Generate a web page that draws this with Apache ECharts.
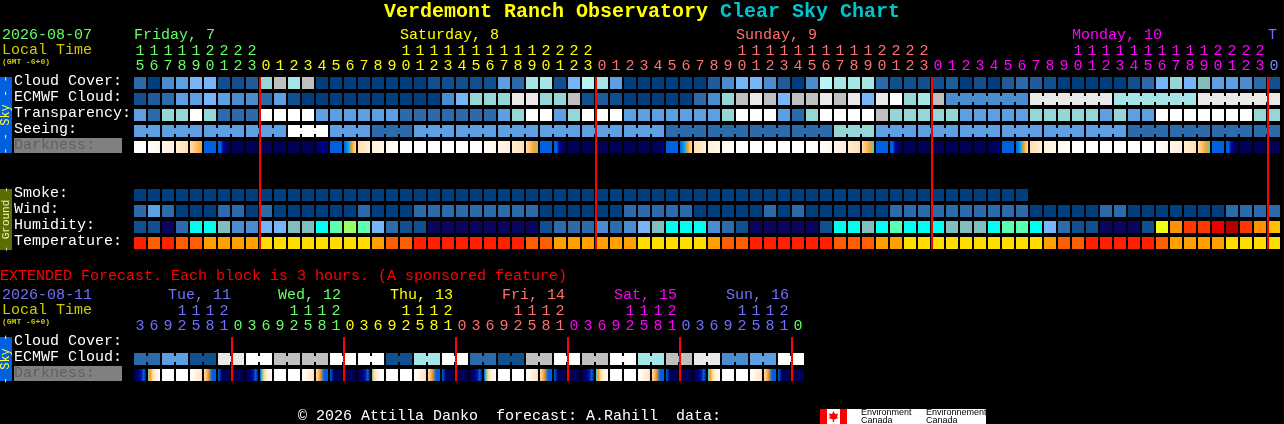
<!DOCTYPE html>
<html><head><meta charset="utf-8">
<script src="https://cdn.jsdelivr.net/npm/echarts@6/dist/echarts.min.js"></script>
<style>html,body{margin:0;padding:0;background:#000;overflow:hidden}#c{width:1284px;height:424px}</style>
</head><body><div id="c"></div>
<script>
// ---- level lookup: blues 0-6, teals 7-9, greys 10-12, then humidity and temperature levels
const levelColors = ['#003F7F','#10508F','#1E5C9C','#2C6BAB','#4B8CD0','#5E9FE3','#75B5F8','#96D6D6','#A5E5E5','#B5F5F5','#BFBFBF','#E9E9E9','#FFFFFF','#80BEBE','#0A0560','#00FFEE','#5AFFB0','#99FF66','#EEFF11','#FF9000','#FF3800','#EE0000','#B00000','#FFC000','#FF2000','#FF5F00','#FF9F00','#FFDD00'];
const darkColors = ['#FFFFFF','#FFF7EC','#FFEFD8','#FFDFB0','#FFC070','#FFA020','#80C8A0','#00A0F0','#0060E0','#0010A0','#000080','#000058','#20E0E0'];

// ---- main forecast
const hours = [15,16,17,18,19,20,21,22,23,0,1,2,3,4,5,6,7,8,9,10,11,12,13,14,15,16,17,18,19,20,21,22,23,0,1,2,3,4,5,6,7,8,9,10,11,12,13,14,15,16,17,18,19,20,21,22,23,0,1,2,3,4,5,6,7,8,9,10,11,12,13,14,15,16,17,18,19,20,21,22,23,0];
const rowNames = ['Cloud Cover:','ECMWF Cloud:','Transparency:','Seeing:','Darkness:',' ','  ','Smoke:','Wind:','Humidity:','Temperature:'];
const cloudCover = [3,0,4,5,6,6,1,1,2,7,10,8,10,0,0,0,0,0,0,0,0,1,1,1,1,1,5,3,8,8,1,6,9,8,5,0,0,0,0,0,0,2,4,6,6,4,2,0,4,9,8,8,8,3,1,1,1,1,2,0,1,0,2,3,2,1,0,0,0,0,0,1,3,6,7,6,13,5,5,4,3,1];
const ecmwfCloud = [1,2,3,5,5,6,5,4,4,3,5,1,0,0,0,0,0,0,0,0,0,0,4,6,7,7,7,11,11,7,7,10,1,2,1,0,0,0,0,0,3,4,7,10,11,10,6,10,10,11,10,11,6,11,12,7,8,10,4,4,4,4,4,4,11,11,11,11,11,11,8,8,8,8,8,8,11,11,11,11,11,11];
const transparency = [5,3,7,7,12,7,3,3,3,12,12,12,12,5,5,5,5,5,5,3,3,3,3,3,3,3,5,7,12,12,5,7,12,12,12,5,5,5,5,5,5,5,7,12,12,12,5,3,7,12,12,12,12,10,7,7,7,7,7,5,5,5,5,5,7,7,7,7,7,5,7,5,5,12,12,12,12,12,12,12,7,7];
const seeing = [5,5,5,5,5,5,5,5,5,5,5,12,12,12,5,5,5,3,3,3,5,5,5,5,5,5,5,5,5,5,5,5,5,5,5,5,5,5,3,3,3,3,3,3,3,3,3,3,3,3,7,7,7,5,5,5,5,5,5,5,5,5,5,5,5,5,5,5,5,5,5,3,3,3,3,3,3,3,3,3,3,3];
const darkness = [[0,0],[0,1],[1,2],[2,3],[3,4,5],[8,8],[8,8,9,10,11,11],[11,11],[11,11],[11,11],[11,11],[11,11],[11,11],[11,10,10],[8,8],[8,7,5,3],[3,2],[2,1],[1,0],[0,0],[0,0],[0,0],[0,0],[0,0],[0,0],[0,1],[1,2],[2,3],[3,4,5,6],[8,8],[8,8,9,10,11,11],[11,11],[11,11],[11,11],[11,11],[11,11],[11,11],[11,11,10],[8,8],[8,7,5,3],[3,2],[2,1],[1,0],[0,0],[0,0],[0,0],[0,0],[0,0],[0,0],[0,1],[1,2],[2,3],[3,4,5,12],[8,8],[8,8,9,10,11,11],[11,11],[11,11],[11,11],[11,11],[11,11],[11,11],[11,11,10],[8,8],[8,7,5,3],[3,2],[2,1],[1,0],[0,0],[0,0],[0,0],[0,0],[0,0],[0,0],[0,1],[1,2],[2,3],[3,4,5,12],[8,8],[8,8,9,10,11,11],[11,11],[11,11],[11,11]];
const smoke = [0,0,0,0,0,0,0,0,0,0,0,0,0,0,0,0,0,0,0,0,0,0,0,0,0,0,0,0,0,0,0,0,0,0,0,0,0,0,0,0,0,0,0,0,0,0,0,0,0,0,0,0,0,0,0,0,0,0,0,0,0,0,0,0];
const wind = [3,5,3,0,0,0,3,3,0,3,0,0,0,0,0,0,3,0,0,0,3,3,3,3,3,3,3,3,3,0,0,0,0,0,0,3,3,3,3,3,0,0,0,0,0,3,0,3,0,0,0,0,0,0,3,3,3,3,3,3,3,3,3,3,0,0,0,0,0,3,3,0,0,0,0,0,0,0,3,3,3,3];
const humidity = [1,1,14,3,15,15,13,4,4,6,6,13,13,15,16,17,16,6,3,1,1,14,14,14,14,14,14,14,14,1,3,3,3,4,3,4,6,13,15,15,15,4,3,1,14,14,14,14,14,1,15,15,13,15,16,15,15,15,13,13,13,15,16,16,15,6,3,1,1,14,14,14,1,18,19,20,20,21,22,20,19,23];
const temperature = [24,25,24,25,25,26,26,26,26,27,27,27,27,27,27,27,27,26,25,25,24,24,24,24,24,24,24,24,25,25,26,26,26,26,26,26,27,27,27,27,27,26,25,25,24,24,24,24,24,24,25,25,25,26,26,27,27,27,27,27,27,27,27,27,27,26,25,25,24,24,24,24,24,25,26,26,26,26,27,27,27,27];
const seeingBlockStarts = [0,2,5,8,11,14,17,20,23,26,29,32,35,38,41,44,47,50,53,56,59,62,65,68,71,74,77,80];
const ecmwfBlockStarts = [58,64,70,76];
const midnights = [9,33,57,81];
const dayLabels = [['Friday, 7',134,'#66FF66'],['Saturday, 8',400,'#FFFF00'],['Sunday, 9',736,'#FF7070'],['Monday, 10',1072,'#FF00FF'],['T',1268,'#6F6FFF']];
const hourColorBreaks = [[0,'#66FF66'],[9,'#FFFF00'],[33,'#FF7070'],[57,'#FF00FF'],[81,'#6F8FFF']];

// ---- extended forecast
const extHours = [3,6,9,12,15,18,21,0,3,6,9,12,15,18,21,0,3,6,9,12,15,18,21,0,3,6,9,12,15,18,21,0,3,6,9,12,15,18,21,0,3,6,9,12,15,18,21,0];
const extRowNames = ['Cloud Cover:','ECMWF Cloud:','Darkness:'];
const extEcmwf = [3,3,5,5,1,1,11,11,12,12,10,10,10,10,12,12,12,12,1,1,8,8,12,12,3,3,1,1,10,10,12,12,10,10,12,12,8,8,10,10,11,11,4,4,5,5,12,12];
const extDarkness = [[11,11,10,9,8,9],[6,5,3,2,1,0],[0,0],[0,0],[0,1,2,3],[3,5,8,8],[8,11,11,11],[11,11],[11,11,10,9,8,9],[8,6,3,2,1,0],[0,0],[0,0],[0,1,2,3],[3,5,8,8],[8,11,11,11],[11,11],[11,11,10,9,8,9],[6,3,2,1,0,0],[0,0],[0,0],[0,1,2,3],[3,5,8,8],[8,11,11,11],[11,11],[11,11,10,9,8,9],[8,6,3,2,1,0],[0,0],[0,0],[0,1,2,3],[3,5,8,8],[8,11,11,11],[11,11],[11,11,10,9,8,9],[12,5,3,2,1,0],[0,0],[0,0],[0,1,2,3],[3,5,8,8],[8,11,11,11],[11,11],[11,11,10,9,8,9],[12,5,3,2,1,0],[0,0],[0,0],[0,1,2,3],[3,5,8,8],[8,11,11,11],[11,11]];
const extMidnights = [7,15,23,31,39,47];
const extDayLabels = [['Tue, 11',168,'#7070FF'],['Wed, 12',278,'#66FF66'],['Thu, 13',390,'#FFFF00'],['Fri, 14',502,'#FF7070'],['Sat, 15',614,'#FF00FF'],['Sun, 16',726,'#7070FF']];
const extColorBreaks = [[0,'#7070FF'],[7,'#66FF66'],[15,'#FFFF00'],[23,'#FF7070'],[31,'#FF00FF'],[39,'#7070FF'],[47,'#66FF66']];

const MONO = '"Liberation Mono", monospace';
const chart = echarts.init(document.getElementById('c'), null, {renderer:'canvas'});

function colorAt(breaks, i){ let c = breaks[0][1]; for (const b of breaks) if (i >= b[0]) c = b[1]; return c; }
function rows(values, row, starts){
  return values.map((v,col)=>{
    let bridge = 0;
    if (starts && col >= starts[0] && col+1 < values.length && starts.indexOf(col+1) < 0) bridge = 1;
    return [col,row,v,bridge];
  });
}
function cellItem(params, api){
  const c = api.coord([api.value(0), api.value(1)]);
  const s = api.size([1,1]);
  const w = s[0]-2, h = s[1]-4;
  const fill = levelColors[api.value(2)];
  const kids = [{type:'rect',shape:{x:c[0]-w/2,y:c[1]-h/2,width:w,height:h},style:{fill}}];
  if (api.value(3)) kids.push({type:'rect',shape:{x:c[0]+w/2,y:c[1]-3,width:2,height:6},style:{fill}});
  return {type:'group',children:kids};
}
function darkItem(stopsList){
  return function(params, api){
    const c = api.coord([api.value(0), api.value(1)]);
    const s = api.size([1,1]);
    const w = s[0]-2, h = s[1]-4;
    const st = stopsList[params.dataIndex];
    const grad = new echarts.graphic.LinearGradient(0,0,1,0, st.map((v,i)=>({offset:i/(st.length-1),color:darkColors[v]})));
    return {type:'rect',shape:{x:c[0]-w/2,y:c[1]-h/2,width:w,height:h},style:{fill:grad}};
  };
}
function redItem(lastRow){
  return function(params, api){
    const s = api.size([1,1]);
    const a = api.coord([api.value(0),0]), b = api.coord([api.value(0),lastRow]);
    const x = a[0]-s[0]/2, top = a[1]-s[1]/2+2, bot = b[1]+s[1]/2-2;
    return {type:'rect',shape:{x:x,y:top,width:2,height:bot-top},style:{fill:'#FF0000'}};
  };
}
function xAxis(gridIndex, list, breaks){
  return {type:'category',gridIndex,data:list.map(String),position:'top',boundaryGap:true,
    axisLine:{show:false},axisTick:{show:false},splitLine:{show:false},
    axisLabel:{show:true,interval:0,margin:1,fontFamily:MONO,fontSize:15,lineHeight:15,verticalAlign:'bottom',hideOverlap:false,
      color:(v,i)=>colorAt(breaks,i),
      formatter:(v)=>{const n=+v; return n>=10? Math.floor(n/10)+'\n'+(n%10) : String(n);}}};
}
function yAxis(gridIndex, list){
  return {type:'category',gridIndex,data:list,inverse:true,
    axisLine:{show:false},axisTick:{show:false},splitLine:{show:false},
    axisLabel:{show:true,interval:0,align:'left',margin:119,fontFamily:MONO,fontSize:15,color:'#FFFFFF',padding:[0,0,3,0],
      formatter:(v)=>v==='Darkness:'?'{d|Darkness:}':v,
      rich:{d:{backgroundColor:'#808080',color:'#606060',width:108,height:15,fontFamily:MONO,fontSize:15,align:'left'}}}};
}
function txt(x,y,s,fill,font,extra){
  return Object.assign({type:'text',x,y,silent:true,z:10,style:{text:s,fill,font:font||('15px '+MONO),textAlign:'left',textVerticalAlign:'middle'}},extra||{});
}
function bar(y0,y1,color,label,labelColor,size){
  return [
    {type:'rect',shape:{x:0,y:y0,width:12,height:y1-y0},style:{fill:color},z:5,silent:true},
    {type:'text',x:6,y:(y0+y1)/2,rotation:Math.PI/2,silent:true,z:10,
     style:{text:label,fill:labelColor,font:size+'px '+MONO,textAlign:'center',textVerticalAlign:'middle'}}
  ];
}
const TINY = 'bold 8px '+MONO;
const graphics = [
  txt(2,35,'2026-08-07','#66FF66'),
  txt(2,50,'Local Time','#CCCC00'),
  txt(2,62,'(GMT -6+0)','#CCCC00',TINY),
  txt(0,276,'EXTENDED Forecast. Each block is 3 hours. (A sponsored feature)','#FF0000'),
  txt(2,295,'2026-08-11','#7070FF'),
  txt(2,310,'Local Time','#CCCC00'),
  txt(2,322,'(GMT -6+0)','#CCCC00',TINY),
  txt(298,416,'\u00A9 2026 Attilla Danko  forecast: A.Rahill  data:','#FFFFFF'),
  ...dayLabels.map(d=>txt(d[1],35,d[0],d[2])),
  ...extDayLabels.map(d=>txt(d[1],295,d[0],d[2])),
  ...bar(77,153,'#0060E0','- - Sky - -','#FFFF40',12),
  ...bar(189,250,'#5A6E00','- Ground -','#F0F0C0',11),
  ...bar(337,381,'#0060E0','- Sky -','#FFFF40',12),
  {type:'rect',shape:{x:820,y:409,width:166,height:15},style:{fill:'#FFFFFF'},z:5,silent:true},
  {type:'rect',shape:{x:820,y:409,width:7,height:15},style:{fill:'#FF0000'},z:6,silent:true},
  {type:'rect',shape:{x:840,y:409,width:7,height:15},style:{fill:'#FF0000'},z:6,silent:true},
  {type:'polygon',shape:{points:[[833.5,411],[835,414],[838,413.5],[837,417],[838.5,418],[834.2,419.5],[834.2,422],[832.8,422],[832.8,419.5],[828.5,418],[830,417],[829,413.5],[832,414]]},style:{fill:'#FF0000'},z:6,silent:true},
  ...[[861,413,'Environment'],[861,420.5,'Canada'],[926,413,'Environnement'],[926,420.5,'Canada']].map(t=>txt(t[0],t[1],t[2],'#000000','9px "Liberation Sans"'))
];

const custom = {type:'custom',silent:true,animation:false,clip:false,coordinateSystem:'cartesian2d'};
const option = {
  backgroundColor:'#000000',animation:false,
  title:{left:384,top:0,padding:0,
    text:'{a|Verdemont Ranch Observatory }{b|Clear Sky Chart}',
    textStyle:{rich:{a:{color:'#FFFF00',fontFamily:MONO,fontWeight:'bold',fontSize:20,lineHeight:24},b:{color:'#00C4CC',fontFamily:MONO,fontWeight:'bold',fontSize:20,lineHeight:24}}}},
  grid:[
    {left:133,top:75,width:1148,height:176,containLabel:false},
    {left:133,top:335,width:672,height:48,containLabel:false}
  ],
  xAxis:[xAxis(0,hours,hourColorBreaks),xAxis(1,extHours,extColorBreaks)],
  yAxis:[yAxis(0,rowNames),yAxis(1,extRowNames)],
  series:[
    Object.assign({},custom,{name:'Cloud Cover',xAxisIndex:0,yAxisIndex:0,renderItem:cellItem,data:rows(cloudCover,0)}),
    Object.assign({},custom,{name:'ECMWF Cloud',xAxisIndex:0,yAxisIndex:0,renderItem:cellItem,data:rows(ecmwfCloud,1,ecmwfBlockStarts)}),
    Object.assign({},custom,{name:'Transparency',xAxisIndex:0,yAxisIndex:0,renderItem:cellItem,data:rows(transparency,2)}),
    Object.assign({},custom,{name:'Seeing',xAxisIndex:0,yAxisIndex:0,renderItem:cellItem,data:rows(seeing,3,seeingBlockStarts)}),
    Object.assign({},custom,{name:'Darkness',xAxisIndex:0,yAxisIndex:0,renderItem:darkItem(darkness),data:darkness.map((d,i)=>[i,4])}),
    Object.assign({},custom,{name:'Smoke',xAxisIndex:0,yAxisIndex:0,renderItem:cellItem,data:rows(smoke,7)}),
    Object.assign({},custom,{name:'Wind',xAxisIndex:0,yAxisIndex:0,renderItem:cellItem,data:rows(wind,8)}),
    Object.assign({},custom,{name:'Humidity',xAxisIndex:0,yAxisIndex:0,renderItem:cellItem,data:rows(humidity,9)}),
    Object.assign({},custom,{name:'Temperature',xAxisIndex:0,yAxisIndex:0,renderItem:cellItem,data:rows(temperature,10)}),
    Object.assign({},custom,{name:'Midnight',xAxisIndex:0,yAxisIndex:0,renderItem:redItem(10),data:midnights.map(m=>[m]),z:5}),
    Object.assign({},custom,{name:'Ext ECMWF',xAxisIndex:1,yAxisIndex:1,renderItem:cellItem,data:rows(extEcmwf,1,extEcmwf.map((v,i)=>i).filter(i=>i%2===0))}),
    Object.assign({},custom,{name:'Ext Darkness',xAxisIndex:1,yAxisIndex:1,renderItem:darkItem(extDarkness),data:extDarkness.map((d,i)=>[i,2])}),
    Object.assign({},custom,{name:'Ext Midnight',xAxisIndex:1,yAxisIndex:1,renderItem:redItem(2),data:extMidnights.map(m=>[m]),z:5})
  ],
  graphic:{elements:graphics}
};
chart.setOption(option);
</script></body></html>
